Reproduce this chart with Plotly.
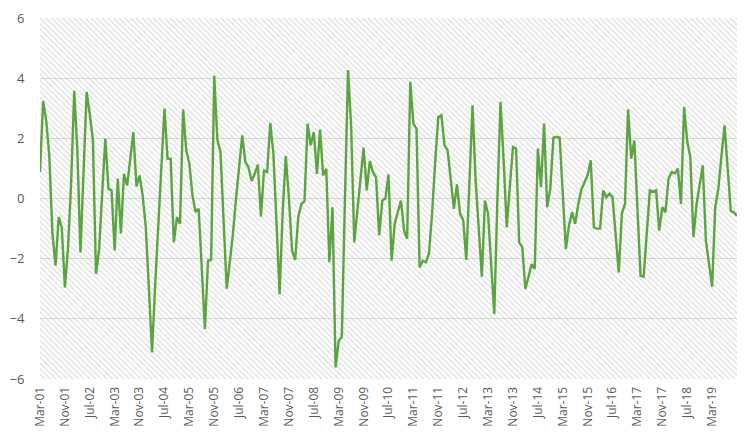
import pandas as pd
import plotly.graph_objects as go

# Monthly series, Mar-2001 .. Nov-2019
start_month = "2001-03-01"
values = [
    0.88, 3.24, 2.6, 1.4, -1.18, -2.23, -0.62, -0.96, -2.96, -1.65,
    0.5, 3.58, 1.6, -1.79, 0.9, 3.54, 2.8, 1.93, -2.51, -1.7,
    0.2, 1.99, 0.32, 0.27, -1.73, 0.66, -1.16, 0.82, 0.43, 1.3,
    2.21, 0.4, 0.77, 0.1, -0.96, -3.0, -5.12, -2.9, -0.8, 1.2,
    2.99, 1.32, 1.32, -1.46, -0.62, -0.84, 2.96, 1.6, 1.16, 0.1,
    -0.45, -0.34, -2.2, -4.34, -2.07, -2.04, 4.08, 1.95, 1.55, -0.7,
    -3.0, -2.1, -1.18, 0.0, 1.0, 2.1, 1.21, 1.04, 0.58, 0.82,
    1.13, -0.6, 0.93, 0.88, 2.51, 1.49, -0.8, -3.18, -0.4, 1.41,
    0.0, -1.73, -2.04, -0.62, -0.18, -0.1, 2.49, 1.77, 2.21, 0.82,
    2.29, 0.77, 0.99, -2.12, -0.29, -5.62, -4.73, -4.6, 0.0, 4.27,
    2.38, -1.46, -0.4, 0.6, 1.69, 0.27, 1.24, 0.88, 0.71, -1.23,
    -0.07, 0.0, 0.8, -2.07, -0.84, -0.45, -0.07, -1.07, -1.34, 3.88,
    2.49, 2.32, -2.29, -2.07, -2.12, -1.84, -0.5, 1.2, 2.71, 2.77,
    1.77, 1.6, 0.5, -0.34, 0.47, -0.51, -0.71, -2.04, 0.5, 3.1,
    0.6, -1.0, -2.6, -0.07, -0.51, -2.2, -3.84, 0.0, 3.21, 1.27,
    -0.96, 0.4, 1.71, 1.66, -1.46, -1.62, -3.01, -2.6, -2.18, -2.34,
    1.66, 0.38, 2.49, -0.29, 0.32, 2.02, 2.05, 2.02, 0.2, -1.68,
    -0.9, -0.46, -0.84, -0.18, 0.3, 0.54, 0.77, 1.27, -0.96, -1.0,
    -1.0, 0.27, 0.04, 0.16, 0.04, -1.2, -2.46, -0.5, -0.18, 2.96,
    1.32, 1.93, -0.3, -2.57, -2.6, -1.2, 0.27, 0.22, 0.27, -1.07,
    -0.29, -0.46, 0.66, 0.88, 0.83, 0.99, -0.18, 3.04, 1.9, 1.38,
    -1.29, -0.2, 0.38, 1.1, -1.4, -2.2, -2.93, -0.29, 0.32, 1.4,
    2.43, 1.0, -0.42, -0.46, -0.57,
]
categories = list(pd.date_range(start_month, periods=len(values), freq="MS").strftime("%b-%y"))
tick_step = 8
y_min, y_max, y_step = -6, 6, 2

positions = list(range(len(values)))
# every 8th month labelled; the final category (at the right edge) carries no label
tick_positions = positions[:-1][::tick_step]
tick_labels = categories[:-1][::tick_step]

LABEL_GREY = "#595959"
GRID = "#d9d9d9"
LINE_GREEN = "#5aa540"

fig = go.Figure()

# hatched plot-area background
x_lo, x_hi = positions[0], positions[-1]
fig.add_trace(go.Scatter(
    x=[x_lo, x_hi, x_hi, x_lo, x_lo],
    y=[y_min, y_min, y_max, y_max, y_min],
    mode="lines", line=dict(width=0),
    fill="toself", fillcolor="rgba(0,0,0,0)",
    fillpattern=dict(shape="\\", fgcolor="#bababa", bgcolor="rgba(255,255,255,0)",
                     size=4, solidity=0.3),
    hoverinfo="skip", showlegend=False,
))

fig.add_trace(go.Scatter(
    x=positions, y=values, mode="lines",
    line=dict(color=LINE_GREEN, width=2.4),
    customdata=categories, hovertemplate="%{customdata}: %{y}<extra></extra>",
    showlegend=False,
))

fig.update_layout(
    width=753, height=446,
    margin=dict(l=40, r=16, t=18, b=67),
    paper_bgcolor="white", plot_bgcolor="white",
    font=dict(family="Open Sans, Liberation Sans, sans-serif", color=LABEL_GREY),
)
fig.update_xaxes(
    range=[x_lo, x_hi], automargin=False,
    tickmode="array", tickvals=tick_positions, ticktext=tick_labels,
    tickangle=-90, tickfont=dict(size=12, color=LABEL_GREY),
    showgrid=False, showline=False, zeroline=False,
    ticks="outside", ticklen=2, tickcolor="rgba(0,0,0,0)",
)
fig.update_yaxes(
    range=[y_min, y_max], dtick=y_step, tick0=0, automargin=False,
    showgrid=True, gridcolor=GRID, gridwidth=1,
    zeroline=True, zerolinecolor=GRID, zerolinewidth=1,
    showline=False, ticks="outside", ticklen=12, tickcolor="rgba(0,0,0,0)",
    tickfont=dict(size=13, color=LABEL_GREY),
)

fig.write_html(
    "out.html",
    config={"displayModeBar": False},
    post_script="document.body.style.margin='0';",
)
